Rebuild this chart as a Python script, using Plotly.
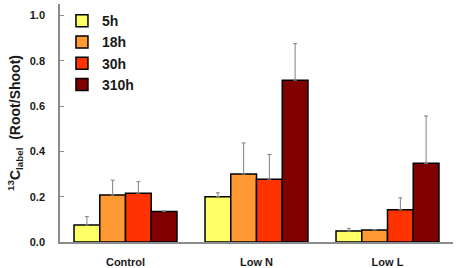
import plotly.graph_objects as go

categories = ["Control", "Low N", "Low L"]
series_names = ["5h", "18h", "30h", "310h"]
values_5h = [0.075, 0.200, 0.048]
values_18h = [0.207, 0.300, 0.053]
values_30h = [0.215, 0.277, 0.142]
values_310h = [0.135, 0.714, 0.347]
err_5h = [0.037, 0.017, 0.012]
err_18h = [0.066, 0.137, 0.002]
err_30h = [0.051, 0.109, 0.053]
err_310h = [0.003, 0.161, 0.209]
colors = ["#FFFF66", "#FF9933", "#FF3300", "#800000"]

all_values = [values_5h, values_18h, values_30h, values_310h]
all_errs = [err_5h, err_18h, err_30h, err_310h]

fig = go.Figure()
for name, vals, errs, col in zip(series_names, all_values, all_errs, colors):
    fig.add_trace(go.Bar(
        x=categories, y=vals, name=name,
        marker=dict(color=col, line=dict(color="#000000", width=1.5)),
        error_y=dict(type="data", symmetric=False, array=errs,
                     arrayminus=[0] * len(errs),
                     color="#808080", thickness=1, width=2),
    ))

font_family = "Liberation Sans, Arial, sans-serif"
fig.update_layout(
    width=458, height=268,
    margin=dict(l=60, r=5, t=4, b=26),
    barmode="group", bargap=0.214, bargroupgap=0,
    plot_bgcolor="white", paper_bgcolor="white",
    font=dict(family=font_family, size=11, color="#1a1a1a"),
    showlegend=True,
    legend=dict(x=0.005, y=0.995, xanchor="left", yanchor="top",
                bgcolor="rgba(0,0,0,0)", tracegroupgap=0,
                font=dict(family=font_family, size=14, color="#1a1a1a", weight="bold")),
    xaxis=dict(showline=True, linecolor="#8c8c8c", linewidth=1.5,
               ticks="", ticklabelstandoff=9, automargin=False,
               tickfont=dict(family=font_family, size=11, weight="bold"),
               showgrid=False),
    yaxis=dict(range=[0, 1.05], tickvals=[0, 0.2, 0.4, 0.6, 0.8, 1.0],
               tickformat=".1f", showline=True, linecolor="#8c8c8c", linewidth=1.5,
               ticks="inside", ticklen=4, tickcolor="#8c8c8c",
               ticklabelstandoff=11, automargin=False,
               showgrid=False, zeroline=False,
               tickfont=dict(family=font_family, size=11, weight="bold"),
               title=dict(text="<sup>13</sup>C<sub>label</sub>  (Root/Shoot)",
                          font=dict(family=font_family, size=14, weight="bold"),
                          standoff=6)),
)

fig.write_html("out.html", post_script="document.body.style.margin='0';",
               config={"displayModeBar": False})
